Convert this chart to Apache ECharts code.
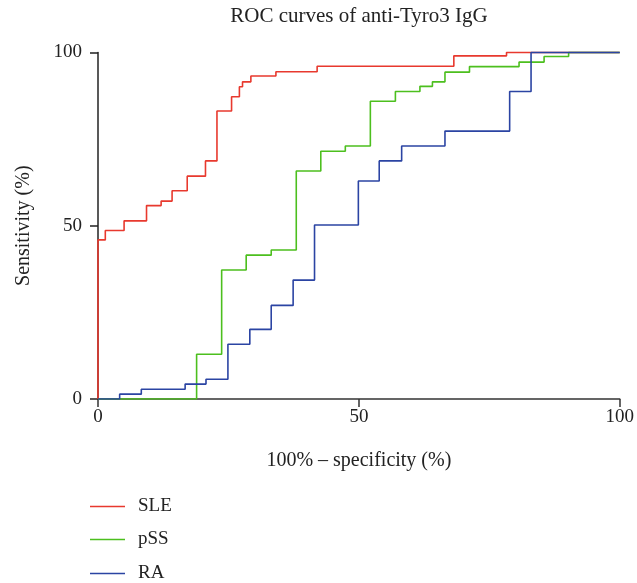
<!DOCTYPE html>
<html>
<head>
<meta charset="utf-8">
<script src="https://cdn.jsdelivr.net/npm/echarts@6/dist/echarts.min.js"></script>
<style>
html,body{margin:0;padding:0;background:#fff;}
#chart{width:637px;height:583px;}
</style>
</head>
<body>
<div id="chart"></div>
<script>
const seriesNames = ['SLE', 'pSS', 'RA'];
const sleX = [0, 0, 1.4, 5.0, 9.3, 12.1, 14.2, 17.1, 20.6, 22.8, 25.6, 27.1, 27.7, 29.3, 34.1, 42.0, 68.2, 78.3, 100];
const sleY = [0, 45.9, 48.6, 51.4, 55.8, 57.1, 60.1, 64.3, 68.7, 83.1, 87.2, 90.1, 91.5, 93.2, 94.4, 96.0, 99.0, 100, 100];
const pssX = [0, 18.9, 23.7, 28.4, 33.2, 38.0, 42.7, 47.4, 52.2, 57.0, 61.7, 64.1, 66.5, 71.2, 80.7, 85.5, 90.2, 100];
const pssY = [0, 12.9, 37.2, 41.5, 43.0, 65.8, 71.5, 73.0, 85.9, 88.7, 90.2, 91.5, 94.3, 95.9, 97.2, 98.8, 100, 100];
const raX = [0, 4.15, 8.3, 16.7, 20.7, 24.9, 29.1, 33.2, 37.4, 41.5, 49.9, 53.9, 58.2, 66.5, 78.9, 83.0, 100];
const raY = [0, 1.4, 2.8, 4.3, 5.7, 15.8, 20.1, 27.0, 34.3, 50.2, 62.9, 68.7, 73.0, 77.3, 88.7, 100, 100];
const xTicks = [0, 50, 100];
const yTicks = [0, 50, 100];
const colors = ['#e8392e', '#4cbf1e', '#2b44a3'];

const zip = (xs, ys) => xs.map((x, i) => [x, ys[i]]);
const FONT = '"Liberation Serif", "DejaVu Serif", serif';
const legendTops = [497, 530, 564];

const chart = echarts.init(document.getElementById('chart'), null, {renderer: 'canvas'});
chart.setOption({
  animation: false,
  backgroundColor: '#fff',
  title: {
    text: 'ROC curves of anti-Tyro3 IgG',
    left: 359, top: 6, textAlign: 'center', padding: 0,
    textStyle: {fontFamily: FONT, fontSize: 21, fontWeight: 'normal', color: '#222'}
  },
  grid: {left: 98, right: 16, top: 52.4, bottom: 184, containLabel: false},
  legend: seriesNames.map((n, i) => ({
    orient: 'vertical', left: 90, top: legendTops[i], padding: 0,
    icon: 'rect', itemWidth: 35, itemHeight: 1.5,
    textStyle: {fontFamily: FONT, fontSize: 19, color: '#222', padding: [0, 0, 0, 8]},
    data: [n]
  })),
  xAxis: {
    type: 'value', min: 0, max: 100, interval: 50,
    name: '100% \u2013 specificity (%)', nameLocation: 'middle', nameGap: 52,
    nameTextStyle: {fontFamily: FONT, fontSize: 20, color: '#222'},
    axisLine: {lineStyle: {color: '#333', width: 1.5}},
    axisTick: {length: 8, lineStyle: {color: '#333', width: 1.5}},
    axisLabel: {fontFamily: FONT, fontSize: 19, color: '#222', margin: 9, formatter: v => xTicks.includes(v) ? String(v) : ''},
    splitLine: {show: false}
  },
  yAxis: {
    type: 'value', min: 0, max: 100, interval: 50,
    name: 'Sensitivity (%)', nameLocation: 'middle', nameGap: 64,
    nameTextStyle: {fontFamily: FONT, fontSize: 20, color: '#222'},
    axisLine: {show: true, lineStyle: {color: '#222', width: 1.5}},
    axisTick: {show: true, length: 8, lineStyle: {color: '#222', width: 1.5}},
    axisLabel: {fontFamily: FONT, fontSize: 19, color: '#222', margin: 16, formatter: v => yTicks.includes(v) ? String(v) : ''},
    splitLine: {show: false}
  },
  series: [
    {name: 'SLE', type: 'line', step: 'end', data: zip(sleX, sleY), symbol: 'none', lineStyle: {color: colors[0], width: 1.6}, itemStyle: {color: colors[0]}},
    {name: 'pSS', type: 'line', step: 'end', data: zip(pssX, pssY), symbol: 'none', lineStyle: {color: colors[1], width: 1.6}, itemStyle: {color: colors[1]}},
    {name: 'RA', type: 'line', step: 'end', data: zip(raX, raY), symbol: 'none', lineStyle: {color: colors[2], width: 1.6}, itemStyle: {color: colors[2]}}
  ]
});
</script>
</body>
</html>
